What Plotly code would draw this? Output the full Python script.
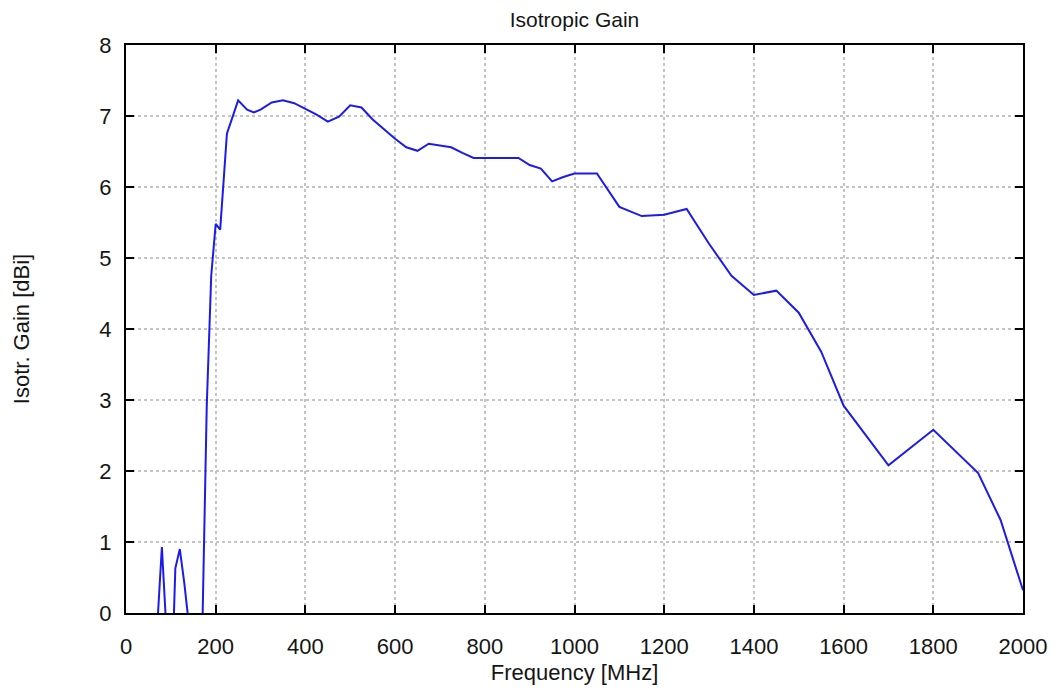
import plotly.graph_objects as go

freq_mhz = [60, 70, 80, 90, 100, 110, 120, 130, 140, 150, 160, 170, 180, 190, 200, 210, 225,
            250, 270, 285, 300, 325, 350, 375, 400, 425, 450, 475, 500, 525, 550, 600, 625,
            650, 675, 725, 750, 775, 875, 900, 925, 950, 975, 1000, 1050, 1100, 1150, 1200,
            1250, 1300, 1350, 1400, 1450, 1500, 1550, 1600, 1700, 1800, 1900, 1950, 2000]
gain_dbi = [-1.0, -0.15, 0.93, -0.15, -1.4, 0.63, 0.9, 0.42, -0.15, -1.0, -1.0, -0.3, 2.9, 4.75, 5.48, 5.4, 6.75,
            7.22, 7.09, 7.05, 7.09, 7.19, 7.22, 7.18, 7.1, 7.02, 6.92, 6.99, 7.15, 7.12, 6.95, 6.68, 6.56,
            6.51, 6.61, 6.56, 6.48, 6.41, 6.41, 6.31, 6.26, 6.08, 6.14, 6.19, 6.19, 5.72, 5.59, 5.61,
            5.69, 5.2, 4.75, 4.48, 4.54, 4.23, 3.68, 2.92, 2.08, 2.58, 1.97, 1.31, 0.32]

x_ticks = [0, 200, 400, 600, 800, 1000, 1200, 1400, 1600, 1800, 2000]
y_ticks = [0, 1, 2, 3, 4, 5, 6, 7, 8]

FONT = "Liberation Sans, Arial, sans-serif"
TXT = "#151515"

fig = go.Figure()
fig.add_trace(go.Scatter(x=freq_mhz, y=gain_dbi, mode="lines",
                         line=dict(color="#1c1ce8", width=2), showlegend=False))

axis_common = dict(
    showline=True, linecolor="black", linewidth=2, mirror="ticks",
    ticks="inside", ticklen=8, tickwidth=2, tickcolor="black",
    showgrid=True, gridcolor="#c4c4c4", griddash="dot", gridwidth=1.5,
    zeroline=False, tickfont=dict(family=FONT, size=22, color=TXT),
)

fig.update_layout(
    width=1059, height=693,
    margin=dict(l=126, r=32, t=45, b=78),
    paper_bgcolor="white", plot_bgcolor="white",
    title=dict(text="Isotropic Gain", x=0.5, xanchor="center", xref="paper",
               y=1 - 20 / 693, yanchor="middle", yref="container",
               font=dict(family=FONT, size=21, color=TXT)),
    xaxis=dict(range=[0, 2000], tickvals=x_ticks, ticklabelstandoff=13,
               title=dict(text="Frequency [MHz]", standoff=6,
                          font=dict(family=FONT, size=22, color=TXT)),
               **axis_common),
    yaxis=dict(range=[0, 8], tickvals=y_ticks, ticklabelstandoff=8,
               title=dict(text="Isotr. Gain [dBi]", standoff=64,
                          font=dict(family=FONT, size=22, color=TXT)),
               **axis_common),
)

fig.write_html("out.html", config={"displayModeBar": False},
               post_script="document.body.style.margin='0';")
